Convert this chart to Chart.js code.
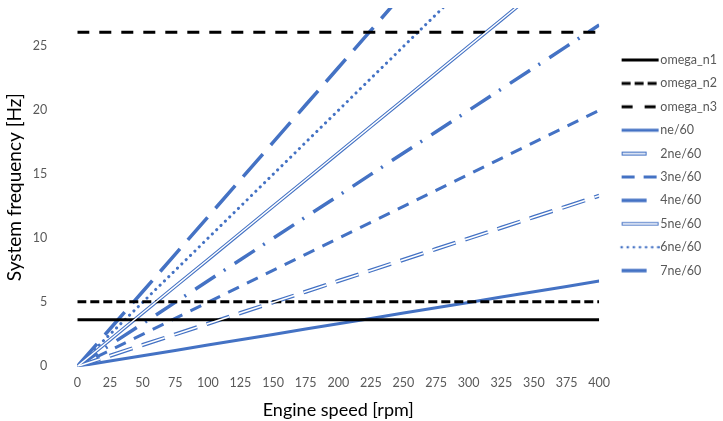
<!DOCTYPE html>
<html>
<head>
<meta charset="utf-8">
<script src="https://cdn.jsdelivr.net/npm/chart.js@4.4.1/dist/chart.umd.min.js"></script>
<style>
  body { margin: 0; background: #fff; }
  #wrap { width: 723px; height: 421px; }
</style>
</head>
<body>
<div id="wrap"><canvas id="myChart" width="723" height="421"></canvas></div>
<script>
// engine speed [rpm]
const rpm = [0, 25, 50, 75, 100, 125, 150, 175, 200, 225, 250, 275, 300, 325, 350, 375, 400];
const yTicks = [0, 5, 10, 15, 20, 25];

// natural frequencies [Hz]
const omegaN1 = [3.65, 3.65, 3.65, 3.65, 3.65, 3.65, 3.65, 3.65, 3.65, 3.65, 3.65, 3.65, 3.65, 3.65, 3.65, 3.65, 3.65];
const omegaN2 = [5.05, 5.05, 5.05, 5.05, 5.05, 5.05, 5.05, 5.05, 5.05, 5.05, 5.05, 5.05, 5.05, 5.05, 5.05, 5.05, 5.05];
const omegaN3 = [26.1, 26.1, 26.1, 26.1, 26.1, 26.1, 26.1, 26.1, 26.1, 26.1, 26.1, 26.1, 26.1, 26.1, 26.1, 26.1, 26.1];

// excitation orders [Hz]
const ne1 = [0, 0.42, 0.83, 1.25, 1.67, 2.08, 2.5, 2.92, 3.33, 3.75, 4.17, 4.58, 5, 5.42, 5.83, 6.25, 6.67];
const ne2 = [0, 0.83, 1.67, 2.5, 3.33, 4.17, 5, 5.83, 6.67, 7.5, 8.33, 9.17, 10, 10.83, 11.67, 12.5, 13.33];
const ne3 = [0, 1.25, 2.5, 3.75, 5, 6.25, 7.5, 8.75, 10, 11.25, 12.5, 13.75, 15, 16.25, 17.5, 18.75, 20];
const ne4 = [0, 1.67, 3.33, 5, 6.67, 8.33, 10, 11.67, 13.33, 15, 16.67, 18.33, 20, 21.67, 23.33, 25, 26.67];
const ne5 = [0, 2.08, 4.17, 6.25, 8.33, 10.42, 12.5, 14.58, 16.67, 18.75, 20.83, 22.92, 25, 27.08, 29.17, 31.25, 33.33];
const ne6 = [0, 2.5, 5, 7.5, 10, 12.5, 15, 17.5, 20, 22.5, 25, 27.5, 30, 32.5, 35, 37.5, 40];
const ne7 = [0, 2.92, 5.83, 8.75, 11.67, 14.58, 17.5, 20.42, 23.33, 26.25, 29.17, 32.08, 35, 37.92, 40.83, 43.75, 46.67];

const blue = '#4472C4';
const black = '#000000';

// little canvases used as legend symbols (drawn on the right part)
function makeIcon(color, width, dash, len, cap, inner) {
    const c = document.createElement('canvas');
    c.width = 55;
    c.height = 8;
    const g = c.getContext('2d');
    const x0 = 17;
    g.strokeStyle = color;
    g.lineWidth = width;
    g.lineCap = cap || 'butt';
    g.setLineDash(dash);
    g.beginPath();
    g.moveTo(x0, 4);
    g.lineTo(x0 + len, 4);
    g.stroke();
    if (inner) {
        g.strokeStyle = '#ffffff';
        g.lineWidth = inner;
        g.beginPath();
        g.moveTo(x0 + 1, 4);
        g.lineTo(x0 + len - 1, 4);
        g.stroke();
    }
    return c;
}

function line(label, data, color, width, dash, icon, extra) {
    return Object.assign({
        label: label,
        data: data,
        borderColor: color,
        backgroundColor: color,
        borderWidth: width,
        borderDash: dash,
        pointRadius: 0,
        fill: false,
        tension: 0,
        pointStyle: icon
    }, extra || {});
}

const datasets = [
    line('omega_n1', omegaN1, black, 3, [], makeIcon(black, 3, [], 37)),
    line('omega_n2', omegaN2, black, 3, [9, 4], makeIcon(black, 3, [9, 4], 35)),
    line('omega_n3', omegaN3, black, 3, [12, 10], makeIcon(black, 3, [11, 12], 35)),
    line('ne/60', ne1, blue, 3, [], makeIcon(blue, 3, [], 37)),
    line('2ne/60', ne2, blue, 4, [24, 10], makeIcon(blue, 4, [], 25, 'butt', 1.6)),
    line('3ne/60', ne3, blue, 3, [12, 9], makeIcon(blue, 3, [13, 9], 37)),
    line('4ne/60', ne4, blue, 3.5, [24, 10, 2, 11], makeIcon(blue, 3.5, [], 25)),
    line('5ne/60', ne5, blue, 3.5, [], makeIcon(blue, 3.5, [], 37, 'butt', 1.4)),
    line('6ne/60', ne6, blue, 3, [0.1, 6], makeIcon(blue, 2.6, [0.1, 6], 37, 'round'), {borderCapStyle: 'round'}),
    line('7ne/60', ne7, blue, 3.5, [30, 12], makeIcon(blue, 3.5, [], 25)),
    // white centres of the double lines
    line('', ne2, '#ffffff', 1.6, [24, 10], null, {order: -1, inner: true}),
    line('', ne5, '#ffffff', 1.4, [], null, {order: -1, inner: true})
];

const fontFamily = 'Lato, "Open Sans", sans-serif';

let ctx = document.getElementById('myChart');
let myChart = new Chart(ctx, {
    type: 'line',
    data: {
        labels: rpm,
        datasets: datasets
    },
    options: {
        responsive: false,
        animation: false,
        devicePixelRatio: 1,
        layout: {
            padding: { left: 2, right: -4, top: 8, bottom: 0 }
        },
        plugins: {
            tooltip: { enabled: false },
            legend: {
                position: 'right',
                align: 'start',
                title: { display: true, text: ' ', padding: { top: 10, bottom: 10.45 } },
                labels: {
                    usePointStyle: true,
                    pointStyleWidth: 44,
                    padding: 10.9,
                    color: '#595959',
                    font: { family: fontFamily, size: 12.5 },
                    filter: (item, data) => !data.datasets[item.datasetIndex].inner
                }
            }
        },
        scales: {
            x: {
                type: 'linear',
                min: 0,
                max: 400,
                ticks: { stepSize: 25, color: '#595959', font: { family: fontFamily, size: 12.5 }, padding: 3, maxRotation: 0 },
                grid: { display: false, drawTicks: true, tickLength: 6 },
                border: { display: false },
                title: { display: true, text: 'Engine speed [rpm]', color: '#000', font: { family: fontFamily, size: 18 }, padding: { top: 6, bottom: 0 } }
            },
            y: {
                min: 0,
                max: 28,
                afterBuildTicks: (axis) => { axis.ticks = yTicks.map(v => ({ value: v })); },
                ticks: { color: '#595959', font: { family: fontFamily, size: 12.5 }, padding: 0 },
                grid: { display: false, drawTicks: true, tickLength: 30 },
                border: { display: false },
                title: { display: true, text: 'System frequency [Hz]', color: '#000', font: { family: fontFamily, size: 19 }, padding: { top: 1, bottom: 7 } }
            }
        }
    }
});
</script>
</body>
</html>
